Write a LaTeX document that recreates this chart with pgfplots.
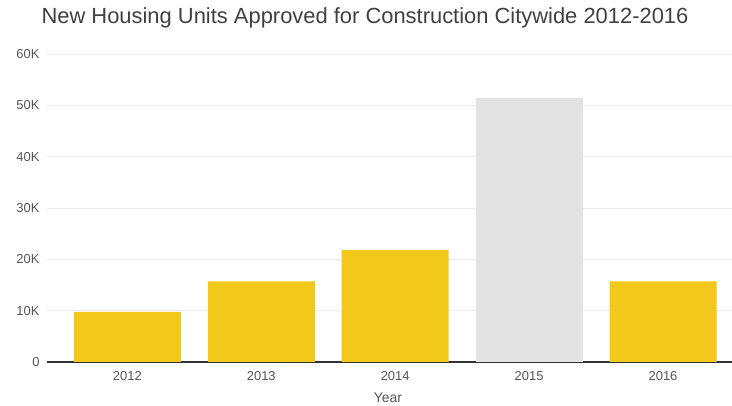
\documentclass[border=0pt]{standalone}
\usepackage{fontspec}
\setmainfont{Liberation Sans}
\usepackage{pgfplots}
\pgfplotsset{compat=1.18}
\definecolor{baryellow}{HTML}{F2C81A}
\definecolor{bargrey}{HTML}{E3E3E3}
\definecolor{gridgrey}{HTML}{EBEBEB}
\definecolor{txtgrey}{HTML}{555555}
\begin{document}
\begin{tikzpicture}
\path[use as bounding box] (-47bp,-44bp) rectangle (685bp,362bp);
\begin{axis}[
    at={(0,0)}, anchor=south west,
    scale only axis,
    width=685bp, height=308bp,
    xmin=-0.6, xmax=4.515,
    ymin=0, ymax=60000,
    axis x line*=bottom,
    axis y line*=left,
    y axis line style={draw=none},
    x axis line style={draw=black!80, line width=1.5bp},
    xtick={0,1,2,3,4},
    xticklabels={2012,2013,2014,2015,2016},
    xtick style={draw=none},
    xticklabel style={yshift=-2bp},
    ytick={0,10000,20000,30000,40000,50000,60000},
    yticklabels={0,10K,20K,30K,40K,50K,60K},
    scaled y ticks=false,
    ytick style={draw=none},
    yticklabel style={xshift=-4bp},
    ymajorgrids,
    grid style={gridgrey, line width=1bp},
    tick label style={font=\fontsize{13}{15}\selectfont, text=txtgrey},
    /pgf/number format/assume math mode=true,
    ybar, bar width=107bp, bar shift=0pt,
]
\addplot[fill=baryellow, draw=none] coordinates {(0,9750) (1,15700) (2,21800) (4,15700)};
\addplot[fill=bargrey, draw=none] coordinates {(3,51500)};
\end{axis}
\node[font=\fontsize{22}{26}\selectfont, text=black!75] at (318bp,344bp) {New Housing Units Approved for Construction Citywide 2012-2016};
\node[font=\fontsize{14}{16}\selectfont, text=txtgrey] at (341bp,-36bp) {Year};
\end{tikzpicture}
\end{document}
